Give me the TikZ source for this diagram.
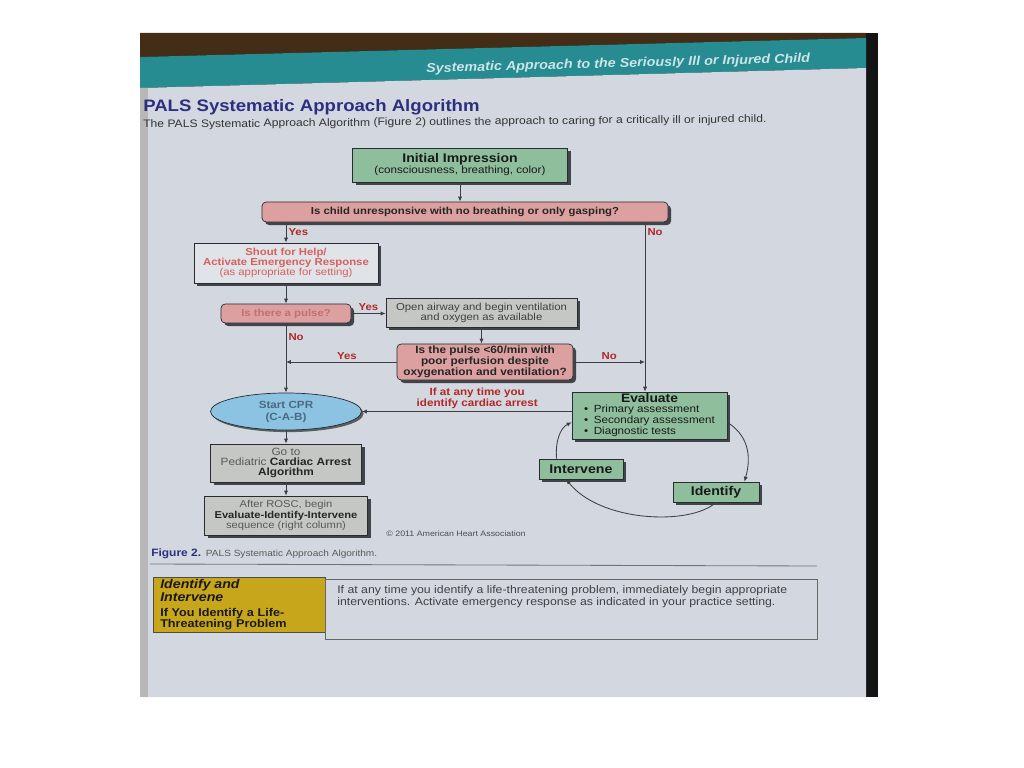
\documentclass[tikz,border=0pt]{standalone}
\usepackage{fontspec}
\setmainfont[FakeStretch=1.12]{Liberation Sans}
\usetikzlibrary{shapes.geometric, arrows.meta, positioning, shadows, calc}

\definecolor{pagebg}{RGB}{211,216,224}
\definecolor{bannerteal}{RGB}{38,140,146}
\definecolor{bannertxt}{RGB}{205,228,230}
\definecolor{navy}{RGB}{44,46,128}
\definecolor{boxgreen}{RGB}{142,190,156}
\definecolor{boxpink}{RGB}{221,160,160}
\definecolor{boxgray}{RGB}{196,199,195}
\definecolor{boxblue}{RGB}{140,195,226}
\definecolor{labelred}{RGB}{178,40,36}
\definecolor{shoutred}{RGB}{214,96,92}
\definecolor{pulsetxt}{RGB}{196,112,108}
\definecolor{cprtxt}{RGB}{74,106,130}
\definecolor{tabyellow}{RGB}{200,166,28}
\definecolor{shade}{RGB}{40,44,48}
\definecolor{linegray}{RGB}{60,62,66}

\newcommand{\fsz}[2]{\fontsize{#1}{#2}\selectfont}

\begin{document}
\begin{tikzpicture}[
    x=0.025cm, y=-0.025cm,
    box/.style={rectangle, draw=shade, line width=0.5pt, inner sep=0pt, align=center, text=black!85,
        drop shadow={shadow xshift=2.2pt, shadow yshift=-2.2pt, fill=shade, opacity=0.85}},
    greenbox/.style={box, fill=boxgreen, text=black!90},
    pinkbox/.style={box, fill=boxpink, rounded corners=3pt},
    graybox/.style={box, fill=boxgray, text=black!65},
    arr/.style={-{Latex[length=3.5pt,width=3pt]}, draw=linegray, line width=0.6pt},
    lbl/.style={font=\bfseries\fsz{7.2}{7}, text=labelred, inner sep=1.5pt}
]

% Photo frame and page
\useasboundingbox (0,0) rectangle (1024,768);
\fill[white] (0,0) rectangle (1024,768);
\fill[black!92] (140,33) rectangle (878,697);
\fill[brown!35!black] (140,33) -- (866,33) -- (866,38) -- (140,57) -- cycle;
\fill[bannerteal] (140,57) -- (866,38) -- (866,68) -- (140,88) -- cycle;
\fill[pagebg] (140,88) -- (866,68) -- (866,697) -- (140,697) -- cycle;
\fill[black!28] (140,88) rectangle (148,697);

% Running head and title
\node[anchor=east, rotate=1.5, text=bannertxt, font=\bfseries\itshape\fsz{9.1}{10}] (runhead) at (815,59) {Systematic Approach to the Seriously Ill or Injured Child};
\node[anchor=base west, inner sep=0pt, text=navy, font=\bfseries\fsz{11.8}{12}] (title) at (143,112) {PALS Systematic Approach Algorithm};
\node[anchor=base west, inner sep=0pt, rotate=0.5, text=black!80, font=\fsz{7.7}{8}] (intro) at (143,128) {The PALS Systematic Approach Algorithm (Figure 2) outlines the approach to caring for a critically ill or injured child.};

% Left column
\node[greenbox, minimum width=5.375cm, minimum height=0.85cm, font=\fsz{7.4}{7.8}] (init) at (460,165) {{\bfseries\fsz{8.9}{7.8}Initial Impression}\\(consciousness, breathing, color)};
\node[pinkbox, minimum width=10.15cm, minimum height=0.5cm, font=\bfseries\fsz{7.2}{7}] (unresp) at (465,212) {Is child unresponsive with no breathing or only gasping?};
\node[box, fill=pagebg!70!white, text=shoutred, minimum width=4.6cm, minimum height=1cm, font=\fsz{7.2}{7.2}] (shout) at (286,263) {\textbf{Shout for Help/}\\\textbf{Activate Emergency Response}\\(as appropriate for setting)};
\node[pinkbox, text=pulsetxt, minimum width=3.25cm, minimum height=0.475cm, font=\bfseries\fsz{7.2}{7}] (pulse) at (286,313.5) {Is there a pulse?};
\node[graybox, text=black!75, minimum width=4.775cm, minimum height=0.725cm, font=\fsz{7.2}{7.2}] (airway) at (481.5,312.5) {Open airway and begin ventilation\\and oxygen as available};
\node[pinkbox, minimum width=4.4cm, minimum height=0.9cm, font=\bfseries\fsz{7.5}{6.9}] (slow) at (485,362) {Is the pulse <60/min with\\poor perfusion despite\\oxygenation and ventilation?};
\node[ellipse, draw=shade, line width=0.5pt, fill=boxblue, inner sep=0pt, align=center, text=cprtxt,
    drop shadow={shadow xshift=1.5pt, shadow yshift=-1.5pt, fill=shade, opacity=0.7},
    minimum width=3.775cm, minimum height=0.925cm, font=\bfseries\fsz{7.4}{8.5}] (cpr) at (286,411.5) {Start CPR\\(C-A-B)};
\node[graybox, minimum width=3.775cm, minimum height=0.95cm, font=\fsz{7.5}{7.2}] (goto) at (286,463) {Go to\\Pediatric \textcolor{black!85}{\textbf{Cardiac Arrest}}\\\textcolor{black!85}{\textbf{Algorithm}}};
\node[graybox, minimum width=4.075cm, minimum height=0.975cm, font=\fsz{7.1}{7.2}] (rosc) at (286,515.5) {After ROSC, begin\\\textcolor{black!85}{\textbf{Evaluate-Identify-Intervene}}\\sequence (right column)};

% Right column
\node[greenbox, minimum width=3.875cm, minimum height=1.175cm, font=\fsz{7.4}{7.1}] (eval) at (649.5,415.5) {{\bfseries\fsz{8.8}{7.4}Evaluate}\\\begin{tabular}[t]{@{}l@{}}\textbullet\hspace{4pt}Primary assessment\\\textbullet\hspace{4pt}Secondary assessment\\\textbullet\hspace{4pt}Diagnostic tests\end{tabular}};
\node[greenbox, minimum width=2.1cm, minimum height=0.5cm, font=\bfseries\fsz{9}{8}] (interv) at (581,469) {Intervene};
\node[greenbox, minimum width=2.15cm, minimum height=0.5cm, font=\bfseries\fsz{9}{8}] (ident) at (716,492) {Identify};
\coordinate (nocol) at (645,300);

% Arrows
\draw[arr] (init.south) -- (init.south |- unresp.north);
\draw[arr] (unresp.south -| shout.north) -- node[lbl, right] {Yes} (shout.north);
\draw[arr] (unresp.south -| nocol) -- node[lbl, right, pos=0.06] {No} (eval.north -| nocol);
\draw[arr] (shout) -- (pulse);
\draw[arr] (pulse.east) -- node[lbl, above] {Yes} (airway.west |- pulse.east);
\draw[arr] (airway.south) -- (airway.south |- slow.north);
\draw[arr] (slow.east) -- node[lbl, above] {No} (slow.east -| nocol);
\draw[arr] (slow.west) -- node[lbl, above, pos=0.45] {Yes} (slow.west -| pulse.south);
\draw[arr] (pulse.south) -- node[lbl, right, pos=0.2] {No} (cpr.north);
\draw[arr] (eval.west |- cpr.east) -- node[lbl, above, pos=0.45, align=center, font=\bfseries\fsz{7.4}{6.8}] {If at any time you\\identify cardiac arrest} (cpr.east);
\draw[arr] (cpr) -- (goto);
\draw[arr] (goto) -- (rosc);

% Evaluate-Identify-Intervene cycle
\draw[arr] (eval.-5) .. controls (752,438) and (750,462) .. (ident.20);
\draw[arr] (ident.south) .. controls (690,526) and (600,522) .. (interv.215);
\draw[arr] (interv.157) .. controls (555,442) and (560,428) .. (eval.185);

\node[text=black!70, font=\fsz{5.6}{6}] (copy) at (456,534) {\textcopyright{} 2011 American Heart Association};

% Caption and table
\node[anchor=base west, inner sep=0pt, text=navy, font=\bfseries\fsz{7.6}{8}] (figlbl) at (151,556) {Figure 2.};
\node[anchor=base west, inner sep=0pt, xshift=3pt, text=black!65, font=\fsz{6.4}{7}] (figcap) at (figlbl.base east) {PALS Systematic Approach Algorithm.};
\draw[black!55, line width=0.6pt] (150,564) -- (817,566);

\node[draw=black!70, fill=tabyellow, anchor=north west, inner xsep=0.175cm, inner ysep=0pt, text width=3.95cm, minimum height=1.375cm, align=left, text=black!90,
    font=\bfseries\fsz{8}{8}] (tabhead) at (153,577) {{\itshape\fsz{9}{8.4}Identify and\\Intervene}\\[3pt]If You Identify a Life-\\Threatening Problem};
\node[draw=black!60, anchor=north west, minimum width=12.3cm, minimum height=1.5cm, inner sep=0pt] (tabbody) at (325,579) {};
\node[anchor=north west, inner sep=0pt, align=left, text=black!75, font=\fsz{7.8}{8.5}] (tabtext) at (337,585) {If at any time you identify a life-threatening problem, immediately begin appropriate\\interventions. Activate emergency response as indicated in your practice setting.};

\end{tikzpicture}
\end{document}
